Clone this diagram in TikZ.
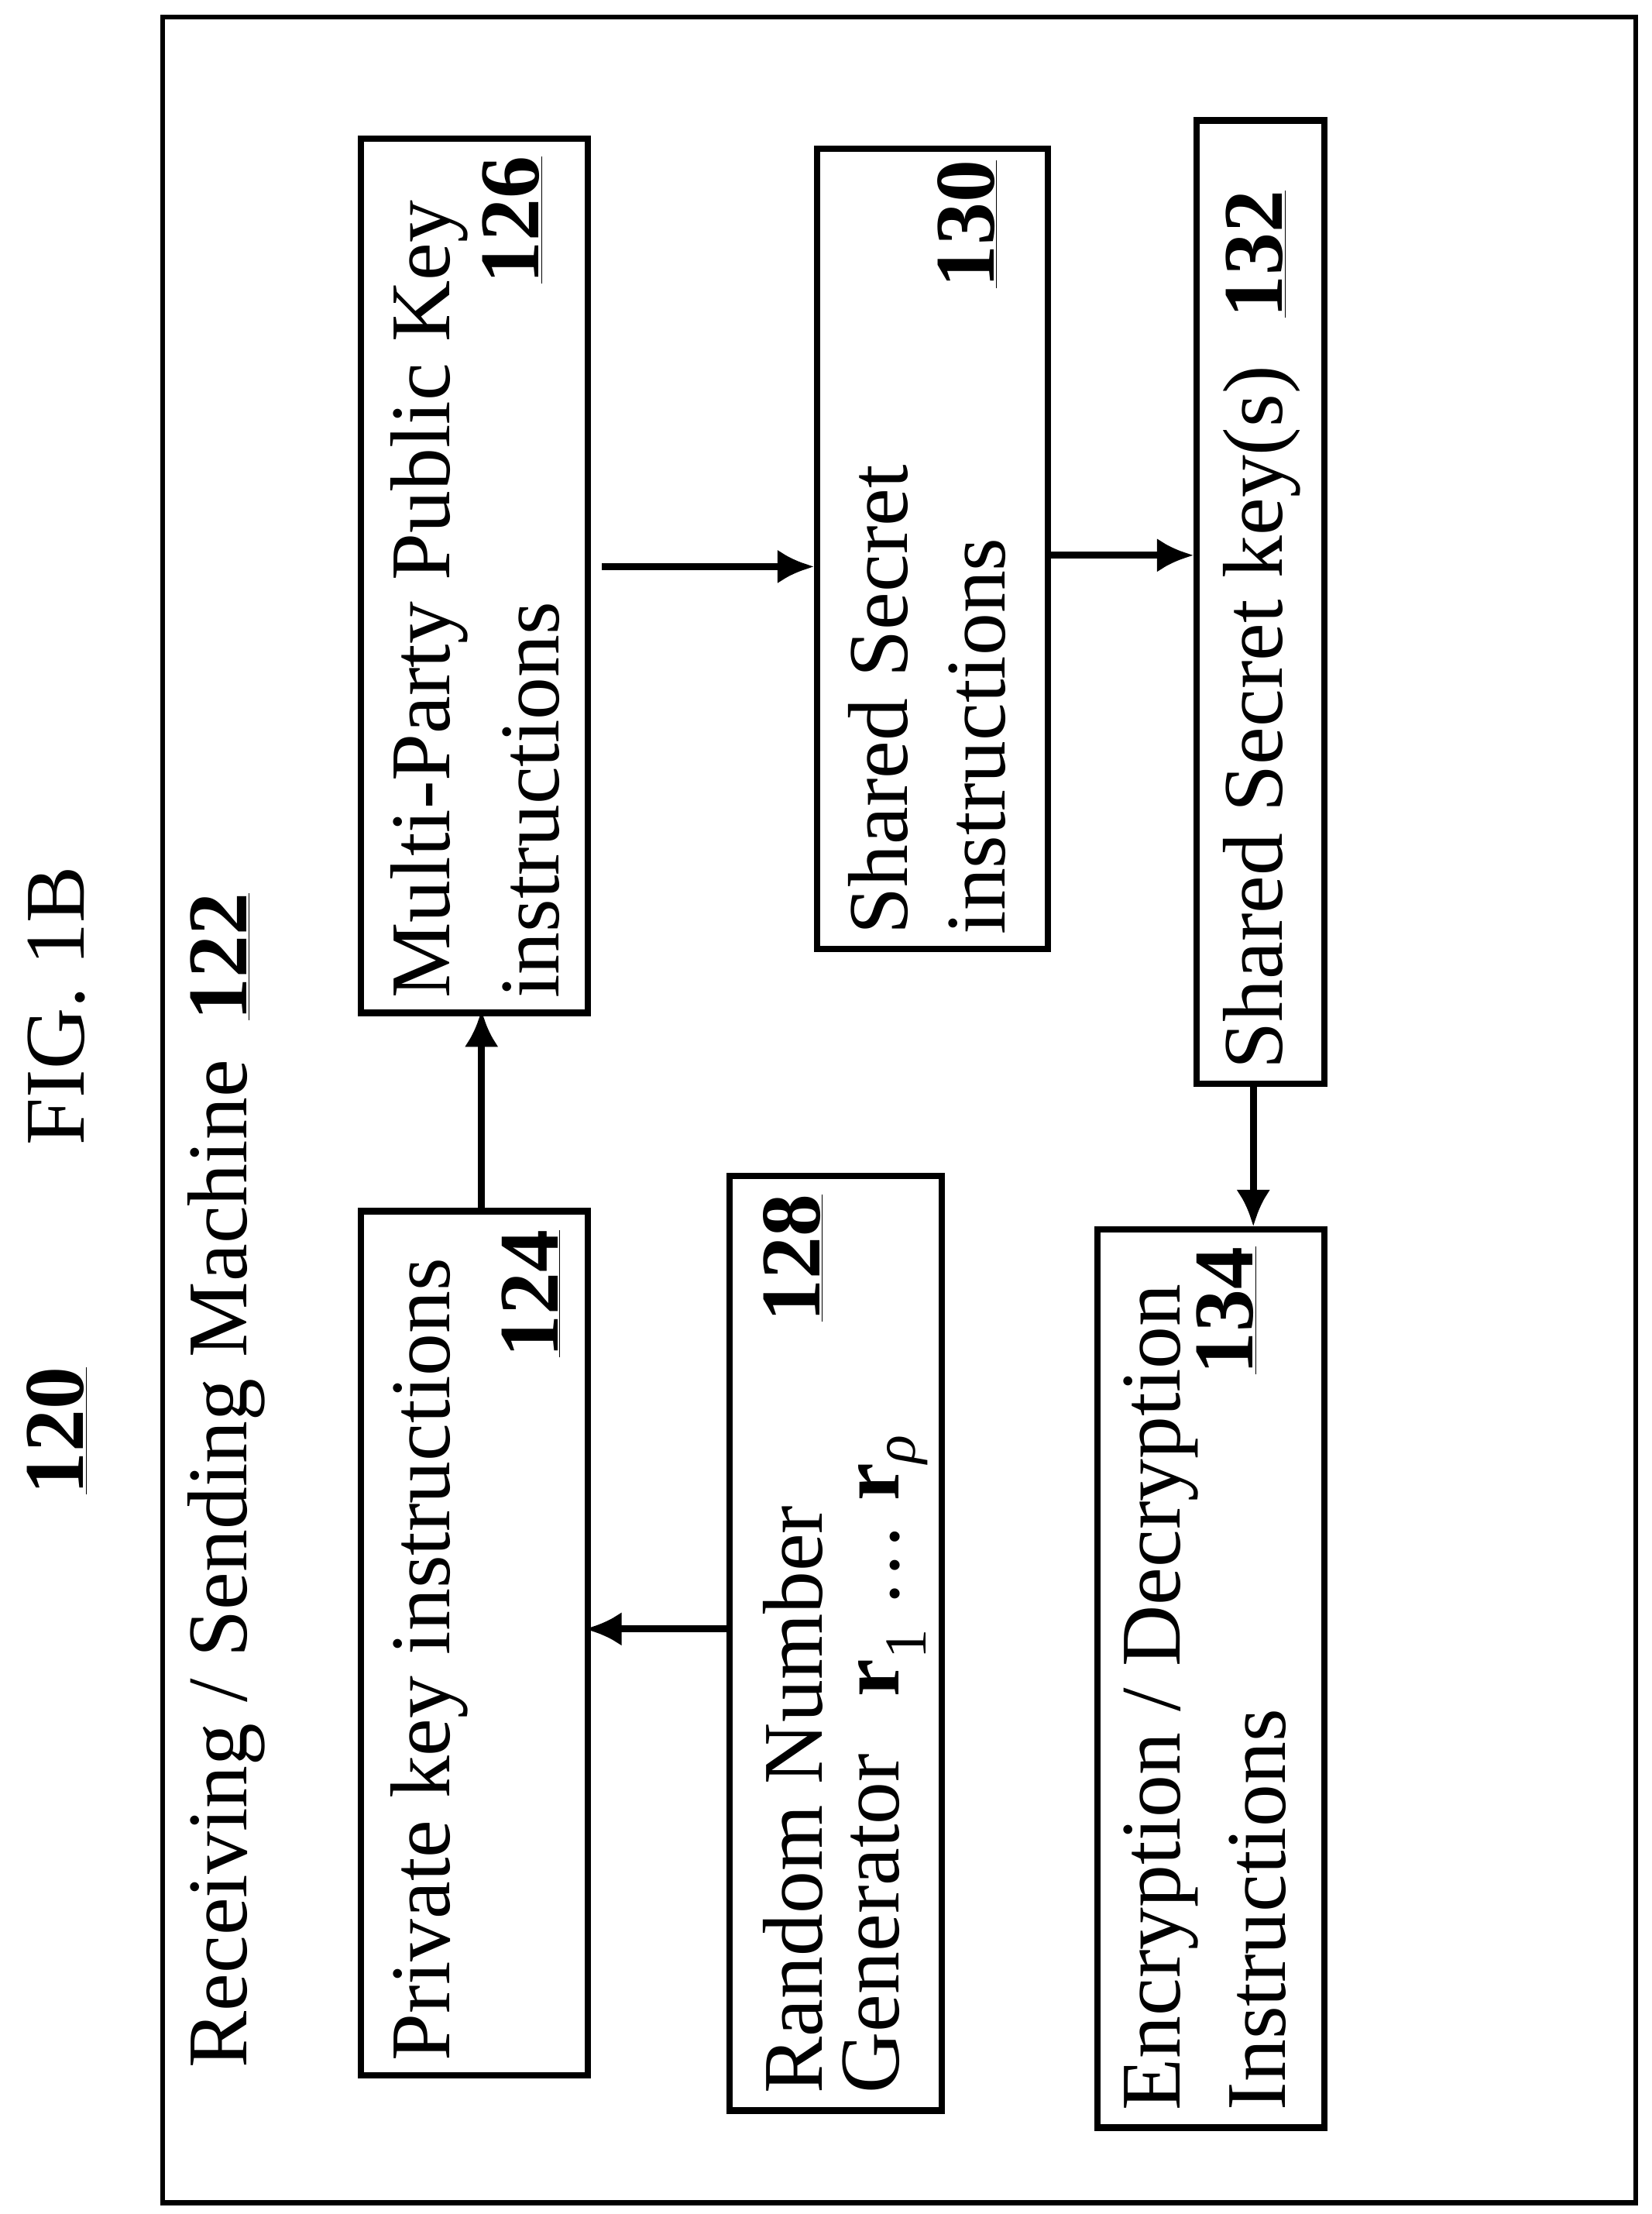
\documentclass[tikz,border=0pt]{standalone}
\usepackage{fontspec}
\setmainfont{Liberation Serif}
\usetikzlibrary{arrows.meta}
\begin{document}
\begin{tikzpicture}[x=1pt,y=-1pt,
  box/.style={draw,line width=4.5pt},
  txt/.style={rotate=90,font=\fontsize{60}{64}\selectfont,inner sep=0pt},
  num/.style={txt,font=\fontsize{60}{64}\selectfont\bfseries},
  arr/.style={line width=5pt,-{Latex[length=26pt,width=24pt]}}]
\useasboundingbox (0,0) rectangle (1166,1563);
\draw[line width=3.5pt] (115,12) rectangle (1155,1555);
\node[num] (n120) at (40,1010) {\underline{120}};
\node[txt] (fig) at (40,710) {FIG. 1B};
\node[txt,anchor=west] (rs) at (160,1460) {Receiving / Sending Machine\hspace{28pt}\textbf{\underline{122}}};
% boxes
\draw[box] (255,855) rectangle (415,1465);
\node[txt,anchor=west] at (303,1455) {Private key instructions};
\node[num,anchor=east] at (375,868) {\underline{124}};
\draw[box] (255,98) rectangle (415,715);
\node[txt,anchor=west] at (303,705) {Multi-Party Public Key};
\node[txt,anchor=west] at (375,705) {instructions};
\node[num,anchor=east] at (362,110) {\underline{126}};
\draw[box] (515,830) rectangle (665,1490);
\node[txt,anchor=west] at (560,1478) {Random Number};
\node[txt,anchor=west] at (625,1478) {Generator\hspace{40pt}\textbf{r}\textsubscript{1} \ldots\ \textbf{r}\textsubscript{\textit{ρ}}};
\node[num,anchor=east] at (560,843) {\underline{128}};
\draw[box] (577,105) rectangle (740,670);
\node[txt,anchor=west] at (620,660) {Shared Secret};
\node[txt,anchor=west] at (690,660) {instructions};
\node[num,anchor=east] at (683,113) {\underline{130}};
\draw[box] (845,85) rectangle (935,765);
\node[txt,anchor=west] at (891,755) {Shared Secret key(s)\hspace{34pt}\textbf{\underline{132}}};
\draw[box] (775,868) rectangle (935,1502);
\node[txt,anchor=west] at (820,1490) {Encryption / Decryption};
\node[txt,anchor=west] at (888,1490) {Instructions};
\node[num,anchor=east] at (866,880) {\underline{134}};
% arrows
\coordinate (a1) at (515,1150); \coordinate (a1e) at (413,1150);
\draw[arr] (a1) -- (a1e);
\coordinate (a2) at (340,855); \coordinate (a2e) at (340,713);
\draw[arr] (a2) -- (a2e);
\coordinate (a3) at (425,400); \coordinate (a3e) at (575,400);
\draw[arr] (a3) -- (a3e);
\coordinate (a4) at (740,392); \coordinate (a4e) at (843,392);
\draw[arr] (a4) -- (a4e);
\coordinate (a5) at (885,765); \coordinate (a5e) at (885,866);
\draw[arr] (a5) -- (a5e);
\end{tikzpicture}
\end{document}
